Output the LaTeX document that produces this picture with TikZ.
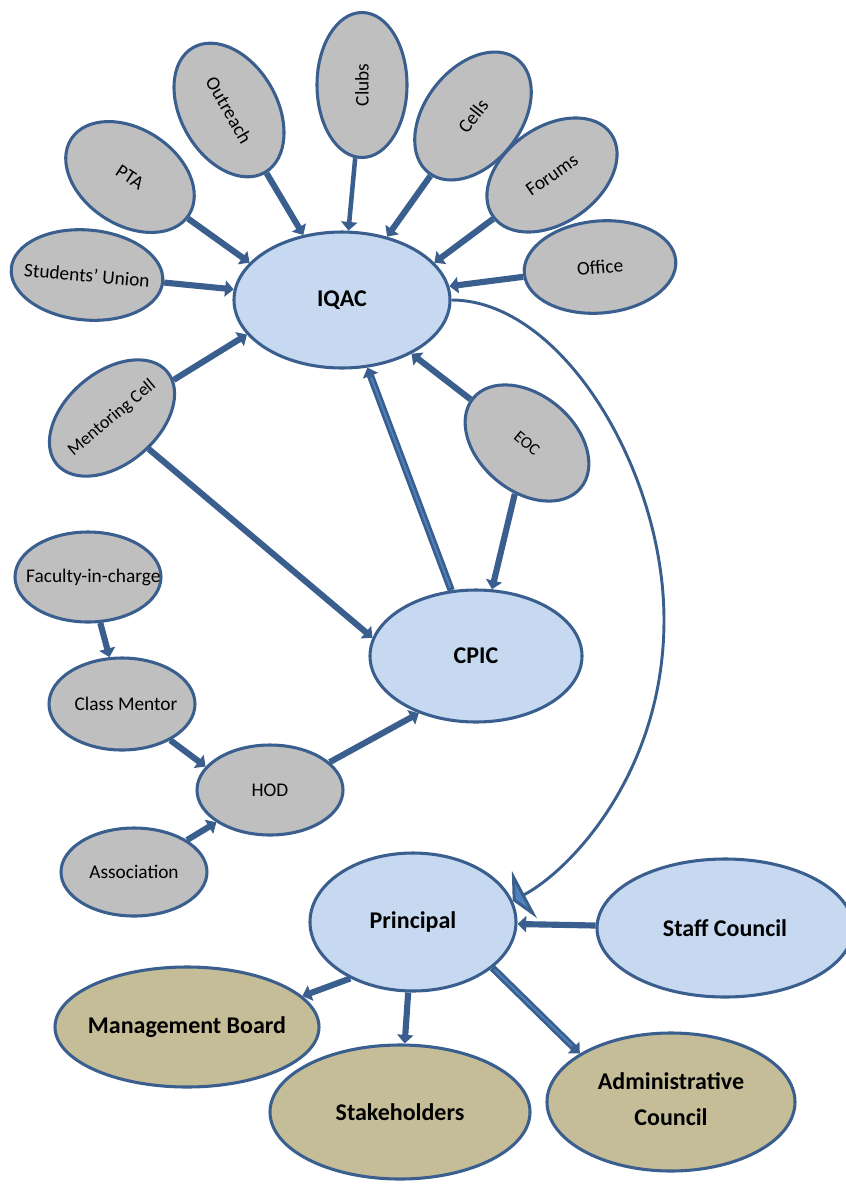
\documentclass[tikz,border=0pt]{standalone}
\usepackage{fontspec}
\setmainfont{Carlito}
\usetikzlibrary{shapes.geometric,arrows.meta}

\definecolor{edgeblue}{RGB}{58,95,142}
\definecolor{paleblue}{RGB}{198,217,241}
\definecolor{midblue}{RGB}{79,129,189}
\definecolor{boxgray}{RGB}{191,191,191}
\definecolor{khaki}{RGB}{196,189,151}

\newcommand{\ctr}[1]{\makebox[0pt]{#1}}

\tikzset{
  oval/.style={ellipse, draw=edgeblue, line width=2.3pt, inner sep=0pt},
  unit/.style={oval, fill=boxgray, font=\fontsize{14.5}{17}\selectfont},
  body/.style={oval, fill=paleblue, font=\bfseries\fontsize{18}{22}\selectfont},
  outer/.style={oval, fill=khaki, font=\bfseries\fontsize{18}{22}\selectfont},
  flow/.style={draw=edgeblue, line width=4.6pt, -{Triangle[length=6.5pt,width=12pt]}},
  thinflow/.style={flow, line width=3.4pt},
  twinflow/.style={flow, line width=5.4pt,
    postaction={draw=midblue, line width=1.4pt, -, shorten >=8pt, shorten <=2pt}},
  loopback/.style={draw=edgeblue, line width=2.2pt,
    -{Triangle[length=10pt,width=40pt,fill=midblue]}}
}

\begin{document}
\begin{tikzpicture}[x=0.75pt, y=-0.75pt]
  \useasboundingbox (0,0) rectangle (846,1186);

  \node[body, minimum width=162pt, minimum height=102pt] (iqac) at (342,300) {\ctr{IQAC}};
  \node[body, minimum width=159pt, minimum height=99pt] (cpic) at (476,656) {\ctr{CPIC}};
  \node[body, minimum width=154.5pt, minimum height=103.5pt] (principal) at (413,922) {\ctr{Principal}};
  \node[body, minimum width=192pt, minimum height=103.5pt] (staff) at (725,928) {\ctr{Staff Council}};

  \node[unit, rotate=-5, minimum width=114pt, minimum height=67.5pt] (union) at (87,275) {\ctr{Students' Union}};
  \node[unit, rotate=-33, minimum width=105pt, minimum height=72pt] (pta) at (130,177) {\ctr{PTA}};
  \node[unit, rotate=-60, minimum width=108pt, minimum height=72pt] (outreach) at (229,110) {\ctr{Outreach}};
  \node[unit, rotate=90, minimum width=108.75pt, minimum height=67.5pt] (clubs) at (362,85) {\ctr{Clubs}};
  \node[unit, rotate=52, minimum width=108pt, minimum height=72pt] (cells) at (473,116) {\ctr{Cells}};
  \node[unit, rotate=35, minimum width=108pt, minimum height=72pt] (forums) at (552,175) {\ctr{Forums}};
  \node[unit, rotate=5, minimum width=114pt, minimum height=69pt] (office) at (600,267) {\ctr{Office}};
  \node[unit, rotate=40, minimum width=108pt, minimum height=69pt,
    font=\fontsize{13.5}{16}\selectfont] (mentoring) at (112,418) {\ctr{Mentoring Cell}};
  \node[unit, rotate=-40, minimum width=105pt, minimum height=72pt,
    font=\fontsize{12.5}{15}\selectfont] (eoc) at (527,443) {\ctr{EOC}};

  \node[unit, minimum width=109.5pt, minimum height=67.5pt] (faculty) at (88,577) {\ctr{\hspace{8pt}Faculty-in-charge}};
  \node[unit, minimum width=109.5pt, minimum height=69pt] (classmentor) at (122,704) {\ctr{\hspace{6pt}Class Mentor}};
  \node[unit, minimum width=109.5pt, minimum height=67.5pt] (hod) at (270,790) {\ctr{HOD}};
  \node[unit, minimum width=109.5pt, minimum height=66pt] (association) at (134,872) {\ctr{Association}};

  \node[outer, minimum width=198pt, minimum height=90pt] (board) at (187,1027) {\ctr{Management Board}};
  \node[outer, minimum width=195pt, minimum height=100.5pt] (stake) at (400,1112) {\ctr{Stakeholders}};
  \node[outer, minimum width=186pt, minimum height=103.5pt] (admin) at (671,1102)
    {\ctr{\begin{tabular}{@{}c@{}}Administrative\\[5pt]Council\end{tabular}}};

  \coordinate (bend) at (664,620);

  \draw[flow] (union) -- (iqac);
  \draw[flow] (pta) -- (iqac.158);
  \draw[flow] (outreach) -- (iqac);
  \draw[thinflow] (clubs) -- (iqac);
  \draw[flow] (cells) -- (iqac);
  \draw[flow] (forums) -- (iqac.22);
  \draw[flow] (office) -- (iqac);
  \draw[flow] (mentoring) -- (iqac.200);
  \draw[flow] (eoc) -- (iqac);
  \draw[twinflow] (cpic) -- (iqac);
  \draw[flow] (mentoring) -- (cpic.170);
  \draw[flow] (eoc) -- (cpic);
  \draw[flow] (faculty) -- (classmentor);
  \draw[flow] (classmentor) -- (hod.160);
  \draw[flow] (hod.25) -- (cpic.225);
  \draw[flow] (association) -- (hod);
  \draw[flow] (staff) -- (principal);
  \draw[flow] (principal.222) -- (board.15);
  \draw[flow] (principal) -- (stake);
  \draw[twinflow] (principal.330) -- (admin.152);

  \draw[loopback] (iqac.east) .. controls +(110,0) and +(0,-150) .. (bend)
    .. controls +(0,150) and +(60,-32) .. (principal.12);
\end{tikzpicture}
\end{document}
